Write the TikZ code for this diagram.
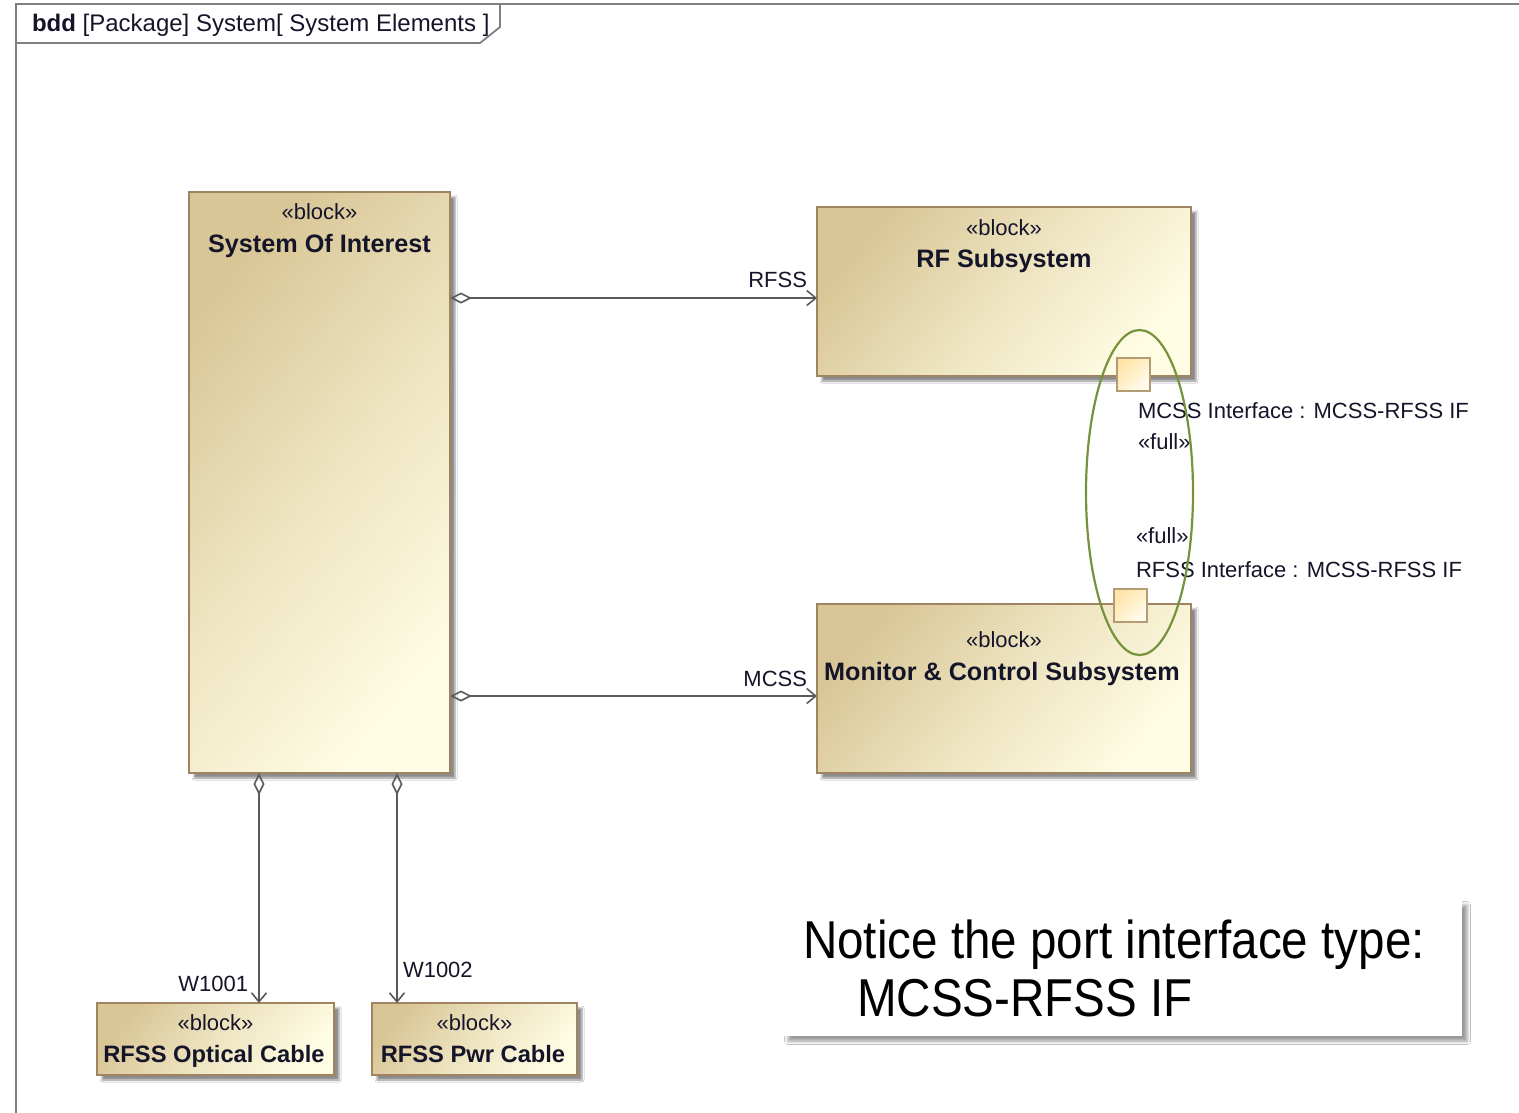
\documentclass[tikz,border=0pt]{standalone}
\usepackage{fontspec}
\usepackage{graphicx}
\setmainfont{Liberation Sans}
\usetikzlibrary{arrows.meta,shadows.blur,shapes.geometric}

\definecolor{blkdark}{HTML}{D9C696}
\definecolor{blklight}{HTML}{FEFCE3}
\definecolor{blkborder}{HTML}{A08462}
\definecolor{portdark}{HTML}{FFE4A8}
\definecolor{portlight}{HTML}{FFFCEE}
\definecolor{portborder}{HTML}{B39C74}
\definecolor{wire}{HTML}{5A5A5A}
\definecolor{txt}{HTML}{15152A}
\definecolor{ellgreen}{HTML}{76923C}
\definecolor{framegray}{HTML}{808080}

\tikzset{
  x=1pt, y=-1pt,
  every node/.style={text=txt, inner sep=0pt, outer sep=0pt},
  block/.style={draw=blkborder, line width=2pt, rectangle,
    top color=blkdark, bottom color=blklight, middle color=blkdark!45!blklight,
    shading angle=50,
    blur shadow={shadow xshift=5pt, shadow yshift=-5pt, shadow blur radius=2pt, shadow opacity=45}},
  port/.style={draw=portborder, line width=1.8pt, rectangle,
    minimum width=33pt, minimum height=33pt,
    top color=portdark, bottom color=portlight, shading angle=45},
  stereo/.style={anchor=base, font=\fontsize{22}{26}\selectfont},
  bname/.style={anchor=base, font=\fontsize{25.2}{29}\selectfont\bfseries},
  smallname/.style={anchor=base, font=\fontsize{23.7}{28}\selectfont\bfseries},
  lbl/.style={font=\fontsize{22}{26}\selectfont},
  assoc/.style={draw=wire, line width=2pt,
    {Diamond[open, length=22pt, width=11pt, line width=1.6pt]}-{Straight Barb[length=9pt, width=15pt, line width=1.6pt]}},
  frameline/.style={draw=framegray, line width=2.4pt},
  notebox/.style={fill=white, rectangle,
    blur shadow={shadow xshift=5pt, shadow yshift=-5pt, shadow blur radius=3.5pt, shadow opacity=40}},
  notetext/.style={anchor=base west, text=black, font=\fontsize{47.6}{56}\selectfont}
}

\begin{document}
\begin{tikzpicture}
\useasboundingbox[fill=white] (0,0) rectangle (1519,1112);

% diagram frame with its name tab
\draw[frameline] (16,1125) -- (16,4) -- (1530,4);
\draw[frameline, line width=1.8pt] (16,43) -- (480,43) -- (500,27) -- (500,4);
\node[anchor=base west, font=\fontsize{24}{28}\selectfont] (title) at (32,31)
  {\textbf{bdd} [Package] System[ System Elements ]};

% blocks
\node[block, anchor=north west, minimum width=261pt, minimum height=581pt] (soi) at (189,192) {};
\node[block, anchor=north west, minimum width=374pt, minimum height=169pt] (rf) at (817,207) {};
\node[block, anchor=north west, minimum width=374pt, minimum height=169pt] (mcs) at (817,604) {};
\node[block, anchor=north west, minimum width=237pt, minimum height=72pt] (opt) at (97,1003) {};
\node[block, anchor=north west, minimum width=205pt, minimum height=72pt] (pwr) at (372,1003) {};

\node[stereo] (soi-st) at (319.5,219) {«block»};
\node[bname]  (soi-nm) at (319.5,252) {System Of Interest};
\node[stereo] (rf-st) at (1004,235) {«block»};
\node[bname]  (rf-nm) at (1004,267) {RF Subsystem};
\node[stereo] (mcs-st) at (1004,647) {«block»};
\node[bname]  (mcs-nm) at (1002,680) {Monitor \& Control Subsystem};
\node[stereo] (opt-st) at (215.5,1030) {«block»};
\node[smallname] (opt-nm) at (214,1062) {RFSS Optical Cable};
\node[stereo] (pwr-st) at (474.5,1030) {«block»};
\node[smallname] (pwr-nm) at (473,1062) {RFSS Pwr Cable};

% ports on the subsystem blocks
\node[port, anchor=north west] (rf-port) at (1117,358) {};
\node[port, anchor=north west] (mcs-port) at (1114,589) {};

\node[lbl, anchor=base west] (rf-port-nm) at (1138,418) {MCSS Interface : MCSS-RFSS IF};
\node[lbl, anchor=base west] (rf-port-st) at (1138,449) {«full»};
\node[lbl, anchor=base west] (mcs-port-st) at (1136,543) {«full»};
\node[lbl, anchor=base west] (mcs-port-nm) at (1136,577) {RFSS Interface : MCSS-RFSS IF};

% highlight around the two ports
\node[draw=ellgreen, line width=2.2pt, ellipse, minimum width=107pt, minimum height=325pt] (hl) at (1139.5,492.5) {};

% part associations
\draw[assoc] (soi.north east |- 0,298) -- (rf.north west |- 0,298);
\draw[assoc] (soi.north east |- 0,696) -- (mcs.north west |- 0,696);
\draw[assoc] (soi.south west -| 259,0) -- (opt.north west -| 259,0);
\draw[assoc] (soi.south west -| 397,0) -- (pwr.north west -| 397,0);

\node[lbl, anchor=base east] (rfss-lbl) at (807,287) {RFSS};
\node[lbl, anchor=base east] (mcss-lbl) at (807,686) {MCSS};
\node[lbl, anchor=base east] (w1001-lbl) at (248,991) {W1001};
\node[lbl, anchor=base west] (w1002-lbl) at (403,977) {W1002};

% note
\node[notebox, anchor=north west, minimum width=679pt, minimum height=136pt] (note) at (783,900) {};
\node[notetext] (note-l1) at (803,958) {\scalebox{1}[1.12]{Notice the port interface type:}};
\node[notetext] (note-l2) at (857,1016) {\scalebox{1}[1.12]{MCSS-RFSS IF}};
\end{tikzpicture}
\end{document}
